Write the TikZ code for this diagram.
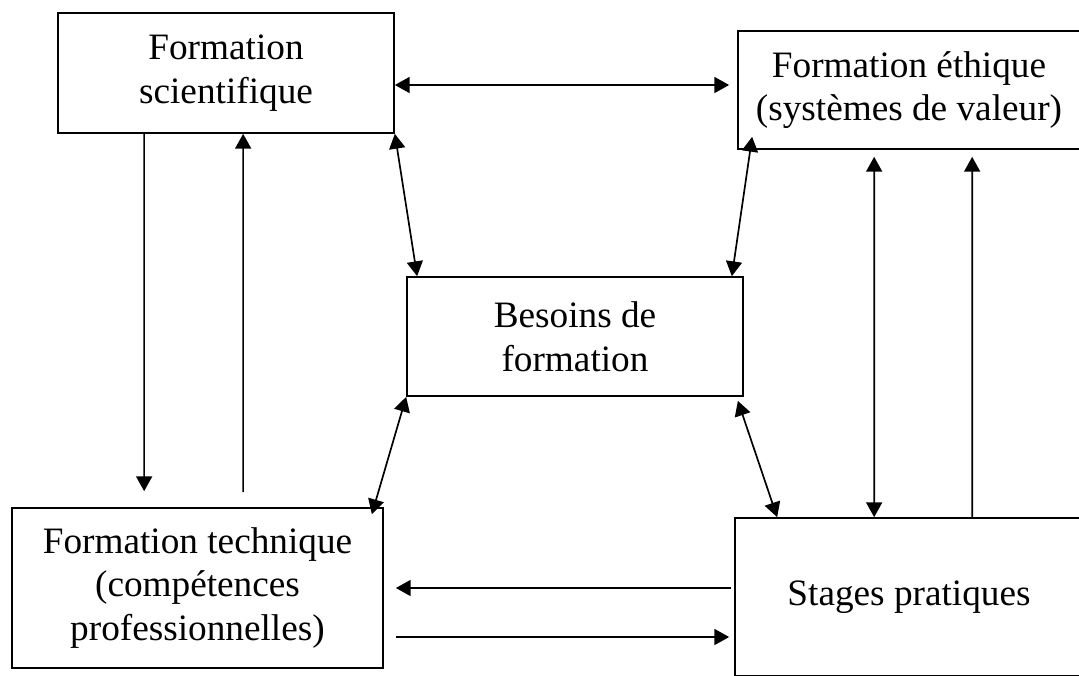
\documentclass[tikz,border=0pt]{standalone}
\usepackage{fontspec}
\setmainfont{Liberation Serif}
\usepackage{tikz}
\usetikzlibrary{arrows.meta,calc}

\begin{document}
\begin{tikzpicture}[x=0.25mm,y=-0.25mm,
    box/.style={draw,line width=1.2pt,align=center,inner sep=0pt,font=\fontsize{26.5}{31}\selectfont},
    link/.style={line width=1.2pt,-{Triangle[length=3.7mm,width=4mm]}},
    both/.style={line width=1.2pt,{Triangle[length=3.7mm,width=4mm]}-{Triangle[length=3.7mm,width=4mm]}}]
  \useasboundingbox (0,0) rectangle (1079,675);
  \node[box,minimum width=8.4cm,minimum height=3cm] (sci) at (226,73) {Formation\\scientifique};
  \node[box,minimum width=8.55cm,minimum height=2.95cm] (eth) at (909,90) {Formation éthique\\(systèmes de valeur)};
  \node[box,minimum width=8.4cm,minimum height=2.975cm] (bes) at (575,336.5) {Besoins de\\formation};
  \node[box,minimum width=9.275cm,minimum height=4cm] (tech) at (197.5,588) {Formation technique\\(compétences\\professionnelles)};
  \node[box,minimum width=8.7cm,minimum height=3.95cm] (stg) at (909,597) {Stages pratiques};
  % top row
  \draw[both] ($(sci.east)+(0,12)$) -- ($(eth.west)+(-8,-5)$);
  % left column
  \draw[link] ($(sci.south west)+(87,0)$) -- ($(tech.north west)+(133,-16)$);
  \draw[link] ($(tech.north west)+(232,-15)$) -- ($(sci.south west)+(186,0)$);
  % diagonals round the centre box
  \draw[both] (sci.south east) -- ($(bes.north west)+(11,0)$);
  \draw[both] ($(eth.south west)+(15,-13)$) -- ($(bes.north east)+(-12,0)$);
  \draw[both] (bes.south west) -- ($(tech.north east)+(-12,7)$);
  \draw[both] ($(bes.south east)+(-6,4)$) -- ($(stg.north west)+(43,0)$);
  % right column
  \draw[both] ($(eth.south west)+(137,7)$) -- ($(stg.north west)+(140,0)$);
  \draw[link] ($(stg.north west)+(238,0)$) -- ($(eth.south west)+(235,7)$);
  % bottom row
  \draw[link] ($(stg.west)+(-3,-9)$) -- ($(tech.east)+(12,0)$);
  \draw[link] ($(tech.east)+(12,49)$) -- ($(stg.west)+(-5,40)$);
\end{tikzpicture}
\end{document}
